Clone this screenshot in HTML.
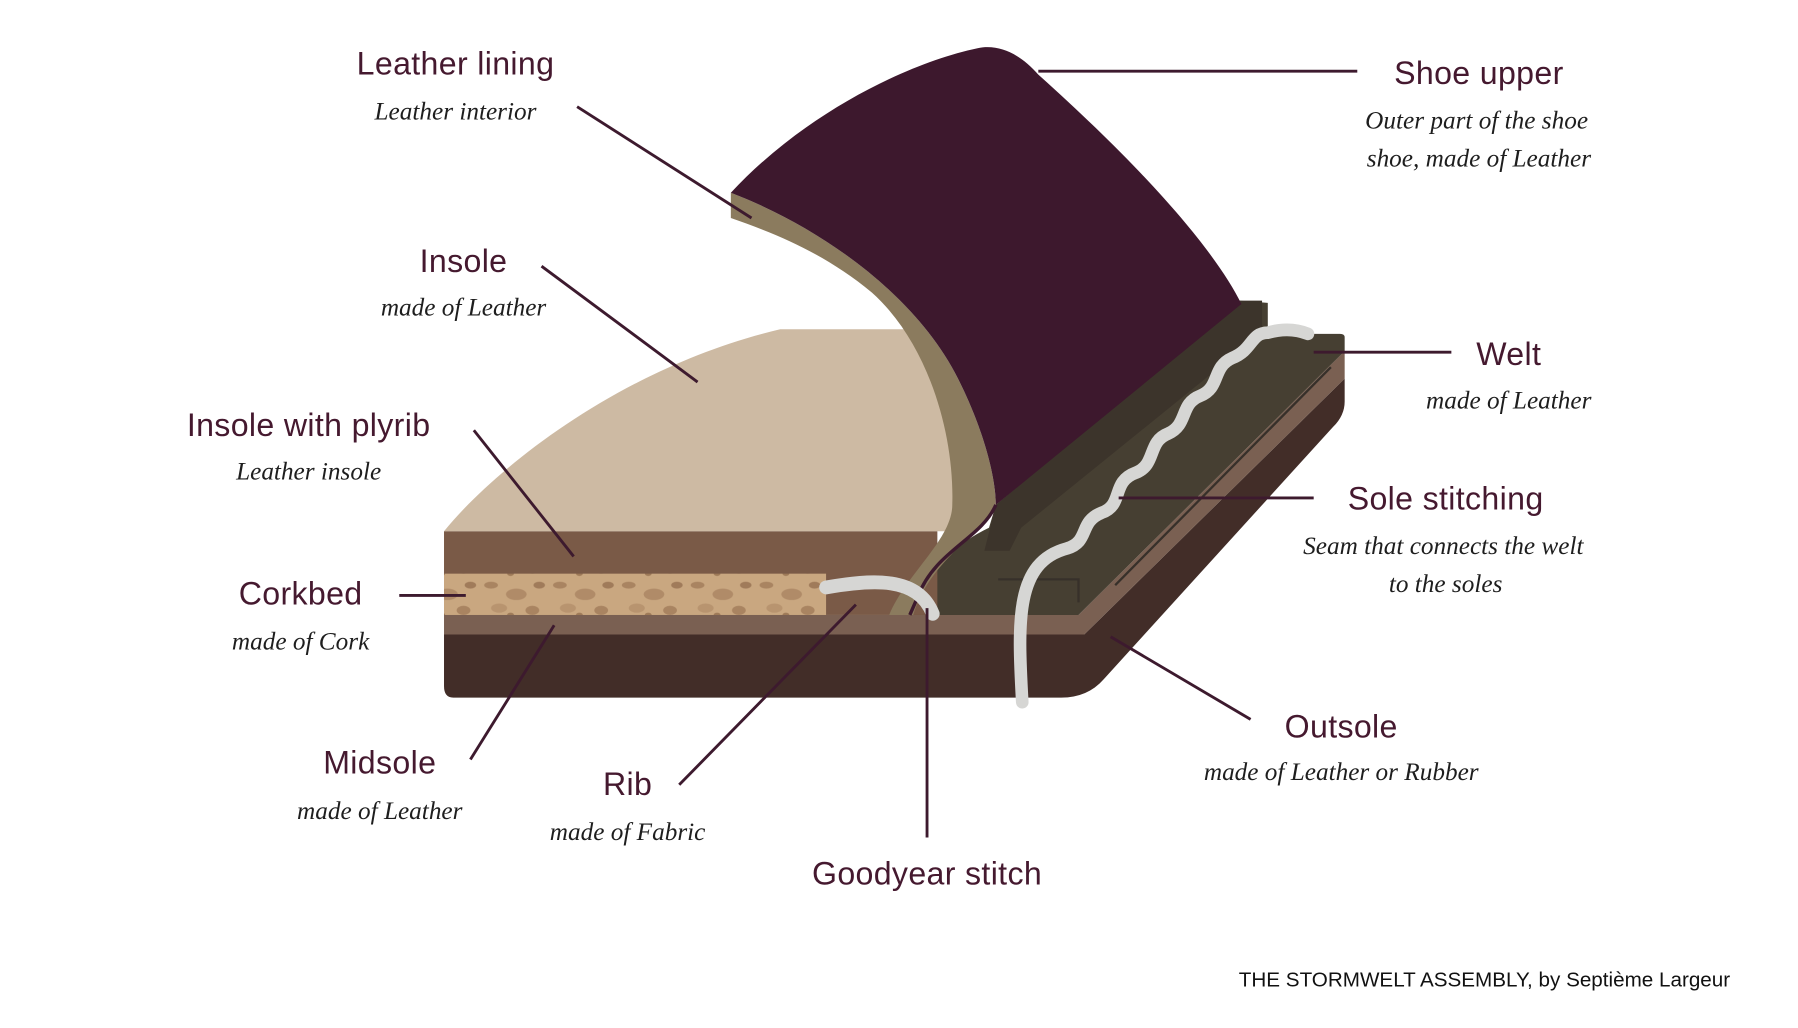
<!DOCTYPE html>
<html><head><meta charset="utf-8"><style>
html,body{margin:0;padding:0;background:#fff;width:1798px;height:1028px;overflow:hidden}
svg{display:block}
.t{font-family:"Liberation Sans",sans-serif;font-size:28px;fill:#45192f;text-anchor:middle;letter-spacing:0.3px}
.s{font-family:"Liberation Serif",serif;font-style:italic;font-size:22px;fill:#1e1e1e;text-anchor:middle}
.l{stroke:#3d1a2e;stroke-width:2.5;fill:none}
</style></head><body>
<svg width="1798" height="1028" viewBox="0 0 1567 896" preserveAspectRatio="xMinYMin meet" xmlns="http://www.w3.org/2000/svg">
<defs>
<pattern id="cork" width="60" height="36" patternUnits="userSpaceOnUse">
<rect width="60" height="36" fill="#c9a780"/>
<ellipse cx="8" cy="6" rx="6" ry="3" fill="#a98461"/>
<ellipse cx="30" cy="14" rx="9" ry="5" fill="#b08b68"/>
<ellipse cx="50" cy="6" rx="5" ry="3" fill="#a07b5a"/>
<ellipse cx="15" cy="26" rx="7" ry="4" fill="#b8946f"/>
<ellipse cx="44" cy="28" rx="6" ry="4" fill="#a98461"/>
<ellipse cx="25" cy="32" rx="3" ry="2" fill="#9e7a58"/>
</pattern>
</defs>
<path d="M387,553 L945,553 L1172,330 L1172,350 Q1172,362 1162,372 L962,592 Q948,608 925,608 L395,608 Q387,608 387,598 Z" fill="#422d28"/>
<path d="M387,536 L940,536 L1172,306 L1172,330 L945,553 L387,553 Z" fill="#7a6052"/>
<path d="M795,536 L940,536 L1172,306 L1172,294 Q1172,291 1168,291 L1105,291 L1105,264 L1080,262 L868,440 L862,460 Q820,480 800,520 Z" fill="#463f32"/>
<path d="M868,440 L1080,262 L1100,262 L1100,290 L890,460 L880,480 L858,480 Z" fill="#3c342b"/>
<path d="M972,510 L1160,320" stroke="#37302a" stroke-width="2"/>
<path d="M870,505 L940,505 L940,525" stroke="#37302a" stroke-width="2" fill="none"/>
<rect x="387" y="463" width="430" height="73" fill="#7a5a47"/>
<rect x="387" y="500" width="333" height="36" fill="url(#cork)"/>
<path d="M387,463 C430,410 540,320 680,287 L805,287 L850,440 L835,463 Z" fill="#cdbaa3"/>
<path d="M637,168 C720,200 800,260 835,330 C860,380 868,420 868,440 C850,470 810,490 796,536 L775,536 C790,500 830,470 830,440 C832,380 810,300 760,255 C720,222 680,205 637,190 Z" fill="#8b7b5e"/>
<path d="M868,440 C855,470 815,480 800,520 L793,536" stroke="#3d1a2e" stroke-width="3" fill="none"/>
<path d="M637,168 C700,100 790,55 852,42 C872,38 890,48 905,65 C1000,150 1060,220 1082,265 L868,440 C868,420 860,380 835,330 C800,260 720,200 637,168 Z" fill="#3d182d"/>
<path d="M720,512 C760,505 800,502 813,535" stroke="#d6d6d4" stroke-width="12" stroke-linecap="round" fill="none"/>
<path d="M891,612 C887,540 885,490 930,478 C950,472 940,455 960,447 C980,440 968,420 990,412 C1008,405 1000,385 1018,378 C1036,370 1028,352 1046,345 C1064,338 1056,320 1074,312 C1092,305 1090,290 1105,290 C1112,288 1125,285 1140,291" stroke="#d6d6d4" stroke-width="11" stroke-linecap="round" fill="none"/>
<path class="l" d="M503,93 L655,190"/>
<path class="l" d="M905,62 L1183,62"/>
<path class="l" d="M472,232 L608,333"/>
<path class="l" d="M1145,307 L1265,307"/>
<path class="l" d="M413,375 L500,485"/>
<path class="l" d="M975,434 L1145,434"/>
<path class="l" d="M348,519 L406,519"/>
<path class="l" d="M968,555 L1090,627"/>
<path class="l" d="M410,662 L483,545"/>
<path class="l" d="M592,684 L746,527"/>
<path class="l" d="M808,530 L808,730"/>
<text class="t" x="397" y="65">Leather lining</text>
<text class="s" x="397" y="104">Leather interior</text>
<text class="t" x="1289" y="73">Shoe upper</text>
<text class="s" x="1287" y="112">Outer part of the shoe</text>
<text class="s" x="1289" y="145">shoe, made of Leather</text>
<text class="t" x="404" y="237">Insole</text>
<text class="s" x="404" y="275">made of Leather</text>
<text class="t" x="269" y="380">Insole with plyrib</text>
<text class="s" x="269" y="418">Leather insole</text>
<text class="t" x="262" y="527">Corkbed</text>
<text class="s" x="262" y="566">made of Cork</text>
<text class="t" x="331" y="674">Midsole</text>
<text class="s" x="331" y="714">made of Leather</text>
<text class="t" x="547" y="693">Rib</text>
<text class="s" x="547" y="732">made of Fabric</text>
<text class="t" x="808" y="771">Goodyear stitch</text>
<text class="t" x="1169" y="643">Outsole</text>
<text class="s" x="1169" y="680">made of Leather or Rubber</text>
<text class="t" x="1315" y="318">Welt</text>
<text class="s" x="1315" y="356">made of Leather</text>
<text class="t" x="1260" y="444">Sole stitching</text>
<text class="s" x="1258" y="483">Seam that connects the welt</text>
<text class="s" x="1260" y="516">to the soles</text>
<text x="1508" y="860" text-anchor="end" font-family="Liberation Sans,sans-serif" font-size="18" fill="#111">THE STORMWELT ASSEMBLY, by Septième Largeur</text>
</svg>
</body></html>
